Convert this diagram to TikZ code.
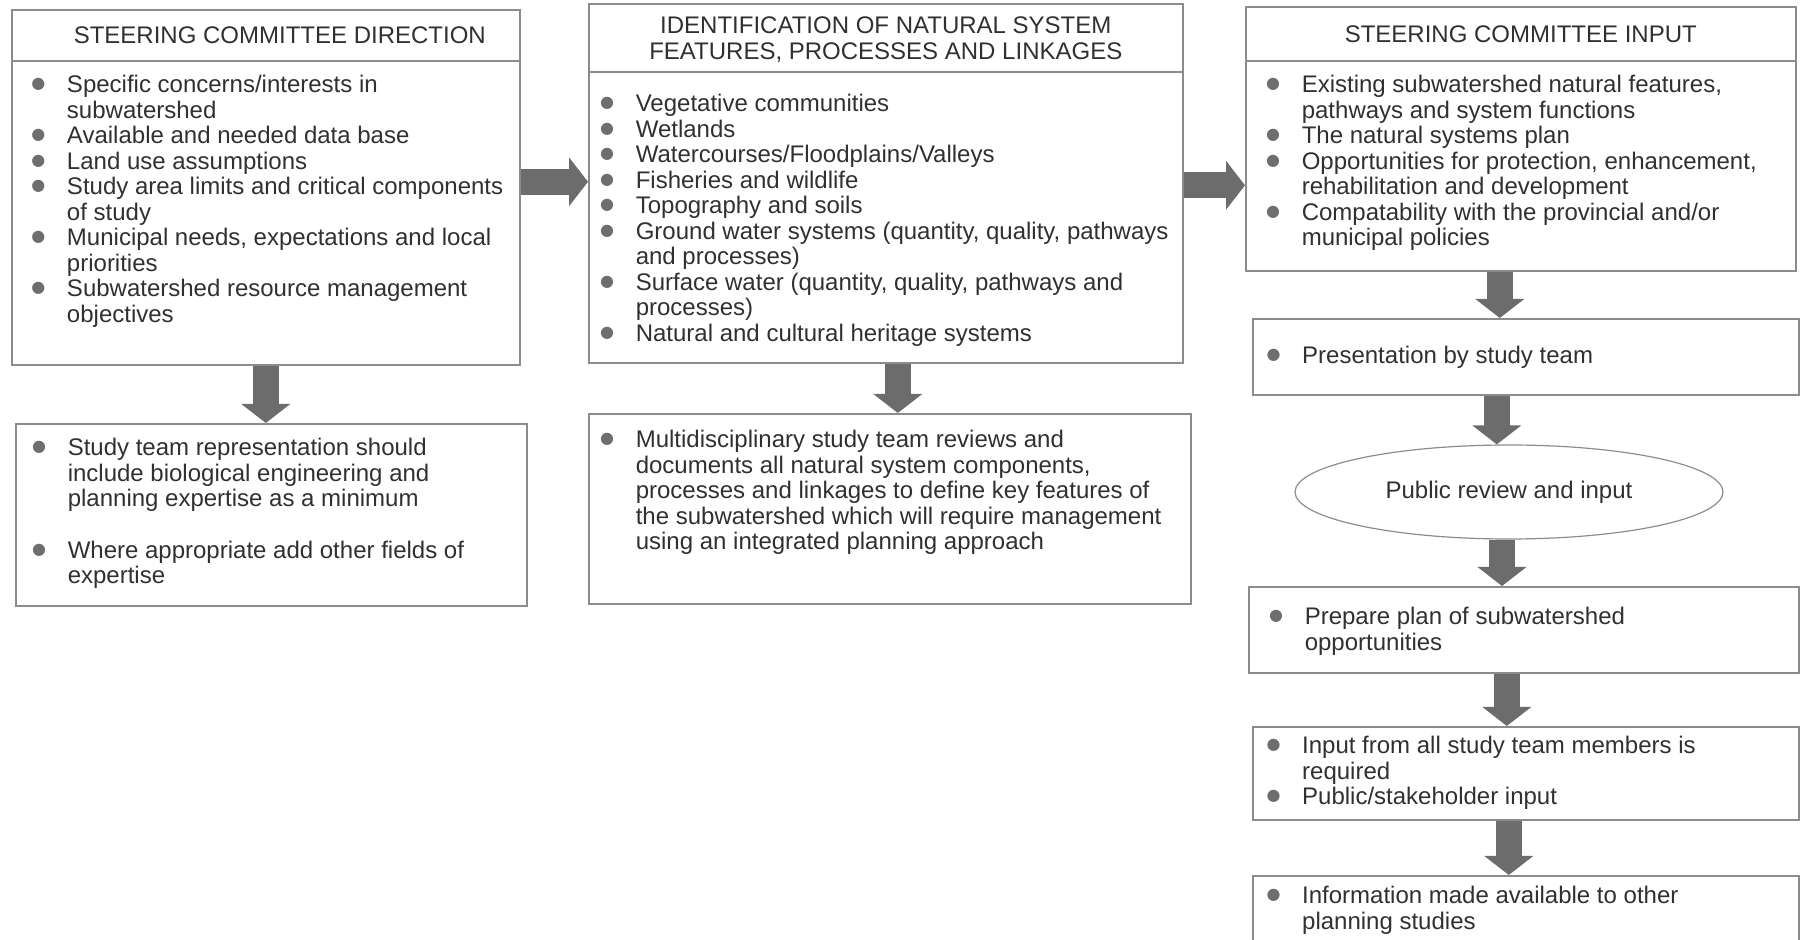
\documentclass[tikz,border=0pt]{standalone}
\usepackage{fontspec}
\setmainfont{Liberation Sans}
\newfontfamily\dotfont{DejaVu Sans}
\usetikzlibrary{positioning,shapes.geometric,arrows.meta}

\definecolor{inkgray}{HTML}{303030}
\definecolor{rulegray}{HTML}{8C8C8C}
\definecolor{arrowgray}{HTML}{6C6C6C}
\definecolor{dotgray}{HTML}{6E6E6E}

% one bullet line, later lines hang under the text
\newcommand{\bul}{\par\noindent\hangindent=17pt\hangafter=1%
  \makebox[17pt][l]{\hspace*{-0.8pt}\raisebox{2pt}{\dotfont\fontsize{8}{8}\selectfont\textcolor{dotgray}{●}}}\rule{0pt}{9pt}}

\begin{document}
\begin{tikzpicture}[
    x=0.5pt, y=-0.5pt,
    txt/.style={font=\fontsize{12}{12.75}\selectfont, text=inkgray},
    headbox/.style 2 args={txt, draw=rulegray, line width=0.8pt, anchor=north west,
      minimum width=#1, minimum height=#2, align=center, inner sep=0pt},
    bodybox/.style n args={4}{txt, draw=rulegray, line width=0.8pt, anchor=north west,
      inner ysep=0pt, inner xsep=#3,
      execute at begin node={\begin{minipage}[t][#2][t]{\dimexpr#1-#3-#3\relax}%
        \rightskip=-#3 plus 1fil\relax\vspace*{#4}},
      execute at end node={\end{minipage}}},
    reviewoval/.style={txt, ellipse, draw=rulegray, line width=0.6pt,
      minimum width=214pt, minimum height=47pt, inner sep=0pt},
    fatarrow/.style={draw=arrowgray, line width=13pt,
      -{Triangle[width=24pt, length=9.5pt]}, arrowgray}
    ]
    \useasboundingbox (0,0) rectangle (1801,940);

    % left column
    \node[headbox={254pt}{25.5pt}] (dirhead) at (11,9) {\hspace*{14pt}STEERING COMMITTEE DIRECTION};
    \node[bodybox={254pt}{152pt}{10.6pt}{7pt}] (dirbody) at (11,60) {
      \bul Specific concerns/interests in\\ subwatershed
      \bul Available and needed data base
      \bul Land use assumptions
      \bul Study area limits and critical components\\ of study
      \bul Municipal needs, expectations and local\\ priorities
      \bul Subwatershed resource management\\ objectives\par
    };
    \node[bodybox={255.5pt}{91pt}{9pt}{7pt}] (team) at (15,423) {
      \bul Study team representation should\\ include biological engineering and\\ planning expertise as a minimum
      \par\vspace{13pt}
      \bul Where appropriate add other fields of\\ expertise\par
    };

    % middle column
    \node[headbox={297pt}{34pt}] (nathead) at (588,3)
      {\rule{0pt}{10pt}IDENTIFICATION OF NATURAL SYSTEM\\ FEATURES, PROCESSES AND LINKAGES};
    \node[bodybox={297pt}{145.5pt}{6.5pt}{11pt}] (natbody) at (588,71) {
      \bul Vegetative communities
      \bul Wetlands
      \bul Watercourses/Floodplains/Valleys
      \bul Fisheries and wildlife
      \bul Topography and soils
      \bul Ground water systems (quantity, quality, pathways\\ and processes)
      \bul Surface water (quantity, quality, pathways and\\ processes)
      \bul Natural and cultural heritage systems\par
    };
    \node[bodybox={301pt}{95pt}{6.5pt}{8pt}] (review) at (588,413) {
      \bul Multidisciplinary study team reviews and\\ documents all natural system components,\\ processes and linkages to define key features of\\ the subwatershed which will require management\\ using an integrated planning approach\par
    };

    % right column
    \node[headbox={275pt}{27pt}] (inhead) at (1245,6) {STEERING COMMITTEE INPUT};
    \node[bodybox={275pt}{105pt}{11pt}{7pt}] (inbody) at (1245,60) {
      \bul Existing subwatershed natural features,\\ pathways and system functions
      \bul The natural systems plan
      \bul Opportunities for protection, enhancement,\\ rehabilitation and development
      \bul Compatability with the provincial and/or\\ municipal policies\par
    };
    \node[bodybox={273pt}{38pt}{7.7pt}{13.5pt}] (present) at (1252,318) {
      \bul Presentation by study team\par
    };
    \node[reviewoval] (pubrev) at (1509,492) {Public review and input};
    \node[bodybox={275pt}{43pt}{11pt}{10pt}] (prepplan) at (1248,586) {
      \bul Prepare plan of subwatershed\\ opportunities\par
    };
    \node[bodybox={273pt}{46.5pt}{7.7pt}{4.5pt}] (teaminput) at (1252,726) {
      \bul Input from all study team members is\\ required
      \bul Public/stakeholder input\par
    };
    \node[bodybox={273pt}{50pt}{7.7pt}{5pt}] (infoavail) at (1252,875) {
      \bul Information made available to other\\ planning studies\par
    };

    % arrows
    \draw[fatarrow] ([yshift=15.5pt]dirbody.east) -- ([yshift=15.5pt]dirbody.east -| natbody.west);
    \draw[fatarrow] ([yshift=16pt]natbody.east) -- ([yshift=16pt]natbody.east -| inbody.west);
    \draw[fatarrow] (dirbody.south) -- (dirbody.south |- team.north);
    \draw[fatarrow] ([xshift=6pt]natbody.south) -- ([xshift=6pt]natbody.south |- review.north);
    \draw[fatarrow] ([xshift=-10.5pt]inbody.south) -- ([xshift=-10.5pt]inbody.south |- present.north);
    \draw[fatarrow] ([xshift=-14.5pt]present.south) -- ([xshift=-14.5pt]present.south |- pubrev.north);
    \draw[fatarrow] ([xshift=-3.5pt]pubrev.south) -- ([xshift=-3.5pt]pubrev.south |- prepplan.north);
    \draw[fatarrow] ([xshift=-8.5pt]prepplan.south) -- ([xshift=-8.5pt]prepplan.south |- teaminput.north);
    \draw[fatarrow] ([xshift=-8.5pt]teaminput.south) -- ([xshift=-8.5pt]teaminput.south |- infoavail.north);

\end{tikzpicture}
\end{document}
